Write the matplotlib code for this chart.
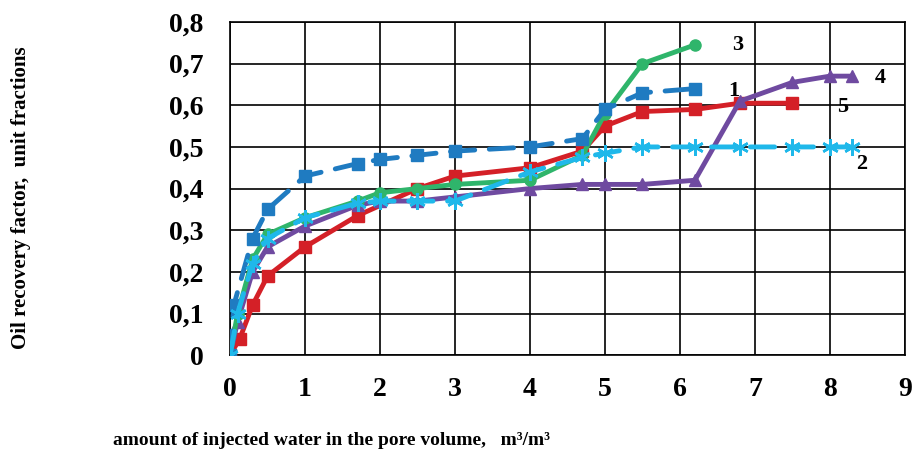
import matplotlib
matplotlib.use('Agg')
import matplotlib.pyplot as plt
from matplotlib.ticker import FuncFormatter

plt.rcParams['font.family'] = ['Liberation Serif', 'DejaVu Serif']
plt.rcParams['font.weight'] = 'bold'

# curve 1 - blue, dashed, squares
x1 = [0, 0.05, 0.3, 0.5, 1.0, 1.7, 2.0, 2.5, 3.0, 4.0, 4.7, 5.0, 5.5, 6.2]
y1 = [0, 0.12, 0.28, 0.35, 0.43, 0.46, 0.47, 0.48, 0.49, 0.50, 0.52, 0.59, 0.63, 0.64]
# curve 2 - light blue, dashed, stars
x2 = [0, 0.1, 0.3, 0.5, 1.0, 1.7, 2.0, 2.5, 3.0, 4.0, 4.7, 5.0, 5.5, 6.2, 6.8, 7.5, 8.0, 8.3]
y2 = [0, 0.10, 0.22, 0.28, 0.33, 0.365, 0.37, 0.37, 0.37, 0.44, 0.475, 0.485, 0.50, 0.50, 0.50, 0.50, 0.50, 0.50]
# curve 3 - green, circles
x3 = [0, 0.1, 0.3, 0.5, 1.0, 1.7, 2.0, 2.5, 3.0, 4.0, 4.7, 5.0, 5.5, 6.2]
y3 = [0, 0.10, 0.23, 0.29, 0.33, 0.37, 0.39, 0.40, 0.41, 0.42, 0.48, 0.58, 0.70, 0.745]
# curve 4 - purple, triangles
x4 = [0, 0.1, 0.3, 0.5, 1.0, 1.7, 2.0, 2.5, 3.0, 4.0, 4.7, 5.0, 5.5, 6.2, 6.8, 7.5, 8.0, 8.3]
y4 = [0, 0.08, 0.20, 0.26, 0.31, 0.36, 0.37, 0.37, 0.38, 0.40, 0.41, 0.41, 0.41, 0.42, 0.61, 0.655, 0.67, 0.67]
# curve 5 - red, squares
x5 = [0, 0.13, 0.3, 0.5, 1.0, 1.7, 2.5, 3.0, 4.0, 4.7, 5.0, 5.5, 6.2, 6.8, 7.5]
y5 = [0, 0.04, 0.12, 0.19, 0.26, 0.335, 0.40, 0.43, 0.45, 0.49, 0.55, 0.585, 0.59, 0.605, 0.605]

curve_labels = ['1', '2', '3', '4', '5']
label_pos = [(6.65, 0.635), (8.35, 0.46), (6.7, 0.745), (8.6, 0.665), (8.1, 0.595)]

fig = plt.figure(figsize=(9.13, 4.49), dpi=100)
ax = fig.add_axes([0.252, 0.209, 0.739, 0.742])

lw = 3.5
ax.plot(x5, y5, color='#d42027', lw=lw, marker='s', ms=8, zorder=3)
ax.plot(x4, y4, color='#6f4aa0', lw=lw, marker='^', ms=9, zorder=3)
ax.plot(x3, y3, color='#2fb56b', lw=lw, marker='o', ms=8, zorder=3)
ax.plot(x1, y1, color='#1f7bc1', lw=lw, marker='s', ms=9, dashes=[5, 3],
        dash_capstyle='round', zorder=4)
ax.plot(x2, y2, color='#1fb8ea', lw=lw, marker=(6, 2, 0), ms=12, mew=1.8,
        dashes=[5, 3], dash_capstyle='round', zorder=5)

for lab, (lx, ly) in zip(curve_labels, label_pos):
    ax.text(lx, ly, lab, fontsize=16, fontweight='bold', ha='left', va='center')

ax.set_xlim(0, 9)
ax.set_ylim(0, 0.8)
ax.set_xticks(range(0, 10))
ax.set_yticks([i / 10 for i in range(9)])
ax.yaxis.set_major_formatter(FuncFormatter(lambda v, p: '0' if v == 0 else ('%.1f' % v).replace('.', ',')))
ax.grid(True, color='black', lw=1.2)
ax.set_axisbelow(True)
for s in ax.spines.values():
    s.set_linewidth(1.2)
ax.tick_params(length=0, labelsize=20)
ax.tick_params(axis='x', pad=16)
ax.tick_params(axis='y', pad=19)
for t in ax.get_xticklabels() + ax.get_yticklabels():
    t.set_fontweight('bold')

fig.text(0.023, 0.56, 'Oil recovery factor,  unit fractions', rotation=90,
         fontsize=15, fontweight='bold', ha='center', va='center')
fig.text(0.124, 0.02, 'amount of injected water in the pore volume,   m\u00b3/m\u00b3',
         fontsize=14, fontweight='bold', ha='left', va='center')

fig.savefig('out.png', dpi=100)
